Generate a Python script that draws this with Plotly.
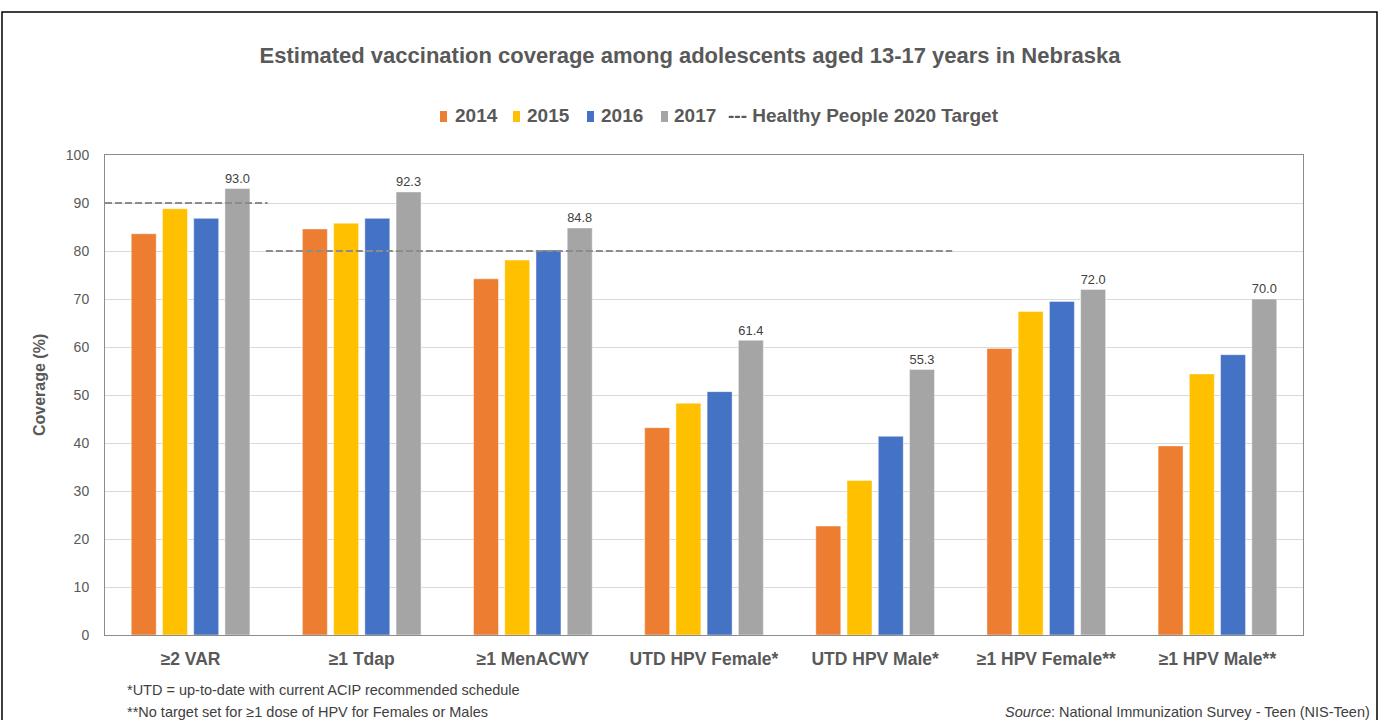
import plotly.graph_objects as go

# ---------------- data ----------------
categories = ["≥2 VAR", "≥1 Tdap", "≥1 MenACWY", "UTD HPV Female*",
              "UTD HPV Male*", "≥1 HPV Female**", "≥1 HPV Male**"]
years = ["2014", "2015", "2016", "2017"]
cov_2014 = [83.6, 84.6, 74.2, 43.2, 22.7, 59.7, 39.4]
cov_2015 = [88.8, 85.8, 78.1, 48.3, 32.2, 67.4, 54.4]
cov_2016 = [86.8, 86.8, 80.2, 50.7, 41.4, 69.5, 58.4]
cov_2017 = [93.0, 92.3, 84.8, 61.4, 55.3, 72.0, 70.0]
hp2020_target = [90, 80, 80, 80, 80, None, None]
target_name = "Healthy People 2020 Target"
y_ticks = list(range(0, 101, 10))

series = [cov_2014, cov_2015, cov_2016, cov_2017]
colors = ["#ED7D31", "#FFC000", "#4472C4", "#A5A5A5"]

# ---------------- layout geometry ----------------
FW, FH = 1380, 720
L, R, T, B = 105, 77, 155, 85
PW, PH = FW - L - R, FH - T - B
FONT = "Arial, Liberation Sans, sans-serif"
TXT = "#595959"


def px2x(px):
    return (px - L) / PW


def py2y(py):
    return (FH - B - py) / PH


fig = go.Figure()

for i, (yr, vals, col) in enumerate(zip(years, series, colors)):
    last = i == len(years) - 1
    fig.add_trace(go.Bar(
        x=categories, y=vals, name=yr,
        marker=dict(color=col, line=dict(color="rgba(255,255,255,0.45)", width=1)),
        text=vals if last else None,
        texttemplate="%{y:.1f}" if last else None,
        textposition="outside" if last else None,
        textfont=dict(family=FONT, size=15, color="#404040"),
        cliponaxis=False,
        showlegend=False,
        hoverinfo="x+y+name",
    ))

# target segments (groups of consecutive equal targets)
segs = []
start = None
for i, v in enumerate(hp2020_target + [None]):
    if start is not None and (v != hp2020_target[start]):
        segs.append((start, i - 1, hp2020_target[start]))
        start = None
    if v is not None and start is None:
        start = i
for s, e, v in segs:
    fig.add_trace(go.Scatter(
        x=[max(s - 0.56, -0.5), e + 0.45], y=[v, v],
        xaxis="x2", mode="lines",
        line=dict(color="#8C8C8C", width=2.2, dash="7px,3px"),
        showlegend=False, hoverinfo="skip", name=target_name,
    ))

fig.update_layout(
    width=FW, height=FH,
    margin=dict(l=L, r=R, t=T, b=B),
    paper_bgcolor="white", plot_bgcolor="white",
    barmode="group", bargap=0.27, bargroupgap=0.2,
    font=dict(family=FONT, color=TXT),
    title=dict(
        text="Estimated vaccination coverage among adolescents aged 13-17 years in Nebraska",
        font=dict(family=FONT, size=22, color=TXT, weight="bold"),
        x=0.5, xref="container", xanchor="center",
        y=1 - 55 / FH, yref="container", yanchor="middle",
    ),
    xaxis=dict(
        type="category", showline=True, linecolor="#8C8C8C", linewidth=1,
        mirror=True, showgrid=False, ticks="",
        tickfont=dict(family=FONT, size=17.5, color=TXT, weight="bold"),
        ticklabelstandoff=8,
    ),
    xaxis2=dict(overlaying="x", range=[-0.5, len(categories) - 0.5],
                visible=False, fixedrange=True),
    yaxis=dict(
        range=[0, 100], tickvals=y_ticks, showline=True, linecolor="#8C8C8C",
        linewidth=1, mirror=True, showgrid=True, gridcolor="#D9D9D9",
        gridwidth=1, zeroline=False, ticks="",
        tickfont=dict(family=FONT, size=14, color=TXT),
        ticklabelstandoff=12,
    ),
)

# y axis title
fig.add_annotation(text="Coverage (%)", xref="paper", yref="paper",
                   x=px2x(39), y=py2y(385), textangle=-90,
                   xanchor="center", yanchor="middle", showarrow=False,
                   font=dict(family=FONT, size=16, color=TXT, weight="bold"))

# ---------------- manual legend ----------------
sq_x = [440, 513, 587, 661]
txt_x = [453, 525, 599, 672]
for xs, xt, yr, col in zip(sq_x, txt_x, years, colors):
    fig.add_shape(type="rect", xref="paper", yref="paper",
                  x0=px2x(xs), x1=px2x(xs + 7), y0=py2y(122), y1=py2y(111),
                  fillcolor=col, line=dict(width=0))
    fig.add_annotation(text=yr, xref="paper", yref="paper",
                       x=px2x(xt), y=py2y(116), xanchor="left", yanchor="middle",
                       showarrow=False,
                       font=dict(family=FONT, size=19, color=TXT, weight="bold"))
fig.add_annotation(text="--- " + target_name, xref="paper", yref="paper",
                   x=px2x(726), y=py2y(116), xanchor="left", yanchor="middle",
                   showarrow=False,
                   font=dict(family=FONT, size=19, color=TXT, weight="bold"))

# ---------------- footnotes ----------------
foot_font = dict(family=FONT, size=14.5, color="#404040")
fig.add_annotation(text="*UTD = up-to-date with current ACIP recommended schedule",
                   xref="paper", yref="paper", x=px2x(125), y=py2y(690),
                   xanchor="left", yanchor="middle", showarrow=False, font=foot_font)
fig.add_annotation(text="**No target set for ≥1 dose of HPV for Females or Males",
                   xref="paper", yref="paper", x=px2x(125), y=py2y(711.5),
                   xanchor="left", yanchor="middle", showarrow=False, font=foot_font)
fig.add_annotation(text="<i>Source</i>: National Immunization Survey - Teen (NIS-Teen)",
                   xref="paper", yref="paper", x=px2x(1372), y=py2y(711.5),
                   xanchor="right", yanchor="middle", showarrow=False, font=foot_font)

# outer chart border
fig.add_shape(type="rect", xref="paper", yref="paper",
              x0=px2x(2), x1=px2x(1377), y0=py2y(740), y1=py2y(12),
              line=dict(color="black", width=1.5), fillcolor="rgba(0,0,0,0)",
              layer="below")

fig.write_html("out.html", config={"displayModeBar": False},
               post_script="document.body.style.margin='0';document.body.style.overflow='hidden';")
